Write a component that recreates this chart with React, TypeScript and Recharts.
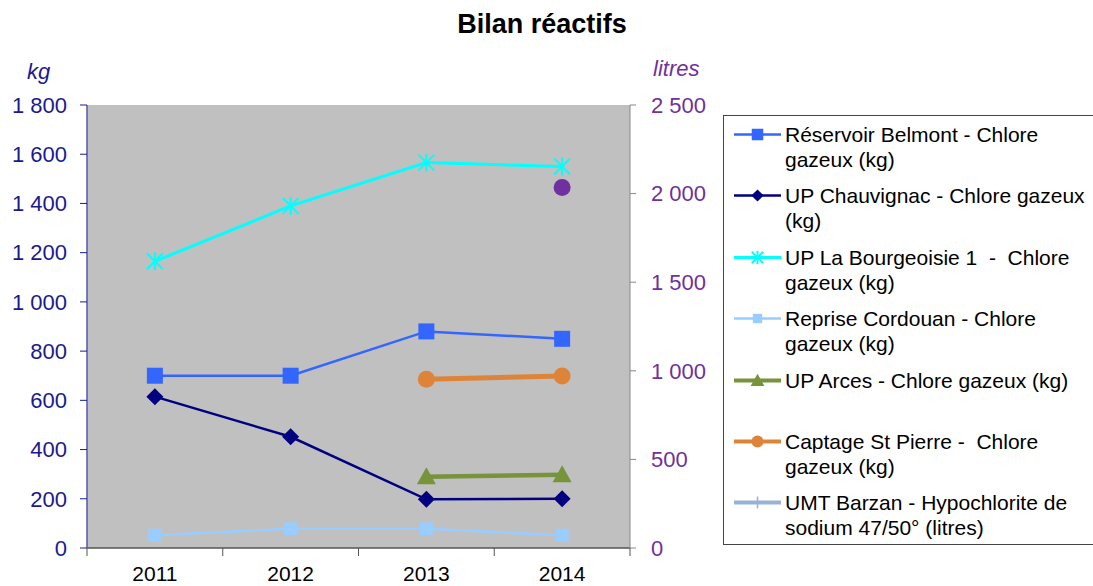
import React from 'react';
import { LineChart, Line, XAxis, YAxis, CartesianGrid } from 'recharts';

// Values
const years = ['2011', '2012', '2013', '2014'];
const belmont = [700, 700, 880, 850];
const chauvignac = [615, 452, 198, 200];
const bourgeoisie = [1165, 1390, 1566, 1550];
const cordouan = [52, 78, 78, 52];
const arces = [null, null, 290, 298];
const stPierre = [null, null, 686, 699];
const barzan = [null, null, null, 2035];

const kgTicks = [0, 200, 400, 600, 800, 1000, 1200, 1400, 1600, 1800];
const litreTicks = [0, 500, 1000, 1500, 2000, 2500];

const FONT = '"Liberation Sans", Arial, sans-serif';
const W = 1093;
const H = 586;
const PLOT_L = 87;
const PLOT_R = 630;
const PLOT_T = 105;
const PLOT_B = 548;
const HALF = (PLOT_R - PLOT_L) / (years.length * 2);

type Shape = 'square' | 'diamond' | 'star' | 'triangle' | 'circle' | 'plus';

const series = [
  { key: 'belmont', values: belmont, label: 'Réservoir Belmont - Chlore\ngazeux (kg)', color: '#3366FF', width: 2.5, shape: 'square' as Shape, size: 16, axis: 'kg' },
  { key: 'chauvignac', values: chauvignac, label: 'UP Chauvignac - Chlore gazeux\n(kg)', color: '#000080', width: 2.5, shape: 'diamond' as Shape, size: 17, axis: 'kg' },
  { key: 'bourgeoisie', values: bourgeoisie, label: 'UP La Bourgeoisie 1  -  Chlore\ngazeux (kg)', color: '#00FFFF', width: 3, shape: 'star' as Shape, size: 16, axis: 'kg' },
  { key: 'cordouan', values: cordouan, label: 'Reprise Cordouan - Chlore\ngazeux (kg)', color: '#99CCFF', width: 2.5, shape: 'square' as Shape, size: 13, axis: 'kg' },
  { key: 'arces', values: arces, label: 'UP Arces - Chlore gazeux (kg)', color: '#77933C', width: 4.5, shape: 'triangle' as Shape, size: 19, axis: 'kg' },
  { key: 'stPierre', values: stPierre, label: 'Captage St Pierre -  Chlore\ngazeux (kg)', color: '#DE8439', width: 5, shape: 'circle' as Shape, size: 17, axis: 'kg' },
  { key: 'barzan', values: barzan, label: 'UMT Barzan - Hypochlorite de\nsodium 47/50° (litres)', color: '#7030A0', legendColor: '#95B3D7', width: 4, shape: 'circle' as Shape, legendShape: 'plus' as Shape, size: 17, axis: 'litres' },
];

const data = years.map((year, i) => {
  const row: Record<string, any> = { year };
  series.forEach(s => { row[s.key] = s.values[i]; });
  return row;
});

const fmt = (v: number) => String(v).replace(/\B(?=(\d{3})+(?!\d))/g, ' ');

function Marker({ shape, cx, cy, size, color }: { shape: Shape; cx: number; cy: number; size: number; color: string }) {
  const h = size / 2;
  switch (shape) {
    case 'square':
      return <rect x={cx - h} y={cy - h} width={size} height={size} fill={color} />;
    case 'diamond':
      return <polygon points={`${cx},${cy - h} ${cx + h},${cy} ${cx},${cy + h} ${cx - h},${cy}`} fill={color} />;
    case 'triangle':
      return <polygon points={`${cx},${cy - h} ${cx + h},${cy + h * 0.8} ${cx - h},${cy + h * 0.8}`} fill={color} />;
    case 'circle':
      return <circle cx={cx} cy={cy} r={h} fill={color} />;
    case 'plus':
      return (
        <g stroke={color} strokeWidth={1.5}>
          <line x1={cx} y1={cy - h} x2={cx} y2={cy + h} />
        </g>
      );
    case 'star':
    default:
      return (
        <g stroke={color} strokeWidth={2}>
          <line x1={cx - h} y1={cy - h} x2={cx + h} y2={cy + h} />
          <line x1={cx - h} y1={cy + h} x2={cx + h} y2={cy - h} />
          <line x1={cx} y1={cy - h - 1} x2={cx} y2={cy + h + 1} />
        </g>
      );
  }
}

const makeDot = (s: typeof series[number]) => (props: any) => {
  const { cx, cy, index, value } = props;
  if (cx == null || cy == null || value == null) return <g key={`${s.key}-${index}`} />;
  return (
    <g key={`${s.key}-${index}`}>
      <Marker shape={s.shape} cx={cx} cy={cy} size={s.size} color={s.color} />
    </g>
  );
};

const YearTick = (props: any) => {
  const { x, y, payload, index } = props;
  return (
    <g>
      {index === 0 && <line x1={x - HALF} y1={y} x2={x - HALF} y2={y + 8} stroke="#555" />}
      <line x1={x + HALF} y1={y} x2={x + HALF} y2={y + 8} stroke="#555" />
      <text x={x} y={y + 33} textAnchor="middle" fontSize={21} fill="#000" fontFamily={FONT}>
        {payload.value}
      </text>
    </g>
  );
};

const LegendBox = () => (
  <div
    style={{
      position: 'absolute',
      left: 723,
      top: 115,
      width: 380,
      height: 430,
      border: '1px solid #444',
      boxSizing: 'border-box',
      background: '#fff',
      fontFamily: FONT,
      fontSize: 21,
      color: '#000',
    }}
  >
    {series.map((s, i) => (
      <div key={s.key} style={{ position: 'absolute', left: 9, top: 6 + i * 61.4, display: 'flex' }}>
        <svg width={50} height={25} style={{ flex: 'none' }}>
          <line x1={1} y1={12.5} x2={48} y2={12.5} stroke={s.legendColor || s.color} strokeWidth={Math.min(s.width, 4)} />
          <Marker
            shape={s.legendShape || s.shape}
            cx={24.5}
            cy={12.5}
            size={s.shape === 'circle' ? 12 : s.size * 0.72}
            color={s.legendColor || s.color}
          />
        </svg>
        <div style={{ whiteSpace: 'pre', lineHeight: '25px', marginLeft: 2 }}>{s.label}</div>
      </div>
    ))}
  </div>
);

export default function App() {
  return (
    <div style={{ position: 'absolute', left: 0, top: 0, width: W, height: H, background: '#fff', overflow: 'hidden', fontFamily: FONT }}>
      <div style={{ position: 'absolute', left: 0, width: 1084, top: 11, textAlign: 'center', fontSize: 27, lineHeight: '27px', fontWeight: 'bold', color: '#000' }}>
        Bilan réactifs
      </div>
      <div style={{ position: 'absolute', left: 27, top: 61, fontSize: 22, lineHeight: '22px', fontStyle: 'italic', color: '#1a1a8f' }}>kg</div>
      <div style={{ position: 'absolute', left: 653, top: 58, fontSize: 22, lineHeight: '22px', fontStyle: 'italic', color: '#7030A0' }}>litres</div>

      <div style={{ position: 'absolute', left: 0, top: 0 }}>
        <LineChart
          width={W}
          height={H}
          data={data}
          margin={{ top: PLOT_T, left: PLOT_L - 80, right: W - PLOT_R - 80, bottom: 0 }}
        >
          <CartesianGrid horizontal={false} vertical={false} fill="#C0C0C0" stroke="none" />
          <XAxis
            dataKey="year"
            height={H - PLOT_B}
            padding={{ left: HALF, right: HALF }}
            axisLine={{ stroke: '#555', strokeWidth: 1.5 }}
            tickLine={false}
            tickSize={0}
            tickMargin={0}
            tick={<YearTick />}
            interval={0}
          />
          <YAxis
            yAxisId="kg"
            width={80}
            domain={[0, 1800]}
            ticks={kgTicks}
            tickFormatter={fmt}
            axisLine={{ stroke: '#5555bb', strokeWidth: 1.5 }}
            tickLine={{ stroke: '#1a1a8f' }}
            tickSize={7}
            tickMargin={13}
            tick={{ fill: '#1a1a8f', fontSize: 22, fontFamily: FONT }}
            interval={0}
          />
          <YAxis
            yAxisId="litres"
            orientation="right"
            width={80}
            domain={[0, 2500]}
            ticks={litreTicks}
            tickFormatter={fmt}
            axisLine={{ stroke: '#888' }}
            tickLine={{ stroke: '#888' }}
            tickSize={6}
            tickMargin={15}
            tick={{ fill: '#7030A0', fontSize: 22, fontFamily: FONT }}
            interval={0}
          />
          {series.map(s => (
            <Line
              key={s.key}
              yAxisId={s.axis}
              dataKey={s.key}
              stroke={s.color}
              strokeWidth={s.width}
              type="linear"
              dot={makeDot(s)}
              activeDot={false}
              isAnimationActive={false}
            />
          ))}
        </LineChart>
      </div>
      <LegendBox />
    </div>
  );
}
